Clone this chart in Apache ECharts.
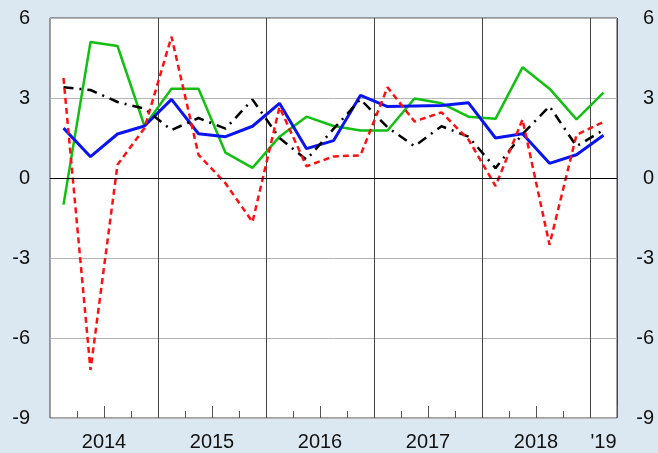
<!DOCTYPE html>
<html>
<head>
<meta charset="utf-8">
<script src="https://cdn.jsdelivr.net/npm/echarts@6/dist/echarts.min.js"></script>
<style>
  html, body { margin: 0; padding: 0; background: #dce8f1; }
  #main { width: 658px; height: 453px; }
</style>
</head>
<body>
<div id="main"></div>
<script>
// quarters 2014Q1 .. 2019Q1
var quarters = ['2014Q1','2014Q2','2014Q3','2014Q4','2015Q1','2015Q2','2015Q3','2015Q4',
                '2016Q1','2016Q2','2016Q3','2016Q4','2017Q1','2017Q2','2017Q3','2017Q4',
                '2018Q1','2018Q2','2018Q3','2018Q4','2019Q1'];
var yearLabels = ['2014','2015','2016','2017','2018',"'19"];
var yTicks = [-9, -6, -3, 0, 3, 6];

var greenLine = [-1.0, 5.1, 4.95, 1.95, 3.35, 3.35, 0.95, 0.38, 1.55, 2.3, 1.95, 1.78, 1.78, 2.98, 2.8, 2.3, 2.22, 4.15, 3.35, 2.2, 3.2];
var blueLine  = [1.87, 0.8, 1.65, 1.95, 2.95, 1.66, 1.55, 1.94, 2.8, 1.1, 1.4, 3.1, 2.68, 2.7, 2.72, 2.82, 1.5, 1.66, 0.55, 0.87, 1.6];
var blackLine = [3.4, 3.3, 2.85, 2.6, 1.8, 2.25, 1.85, 2.94, 1.5, 0.69, 1.84, 2.95, 1.9, 1.19, 1.94, 1.55, 0.37, 1.65, 2.69, 1.19, 1.8];
var redLine   = [3.75, -7.2, 0.5, 1.87, 5.3, 0.87, -0.2, -1.65, 2.66, 0.44, 0.81, 0.85, 3.4, 2.12, 2.46, 1.44, -0.3, 2.19, -2.5, 1.62, 2.1];

var myChart = echarts.init(document.getElementById('main'));
var labelFont = { fontFamily: 'Liberation Sans', fontSize: 20, color: '#111' };

var yAxisBase = {
    type: 'value',
    min: yTicks[0],
    max: yTicks[yTicks.length - 1],
    interval: 3,
    axisLine: { show: false },
    axisTick: { show: false }
};

var option = {
    backgroundColor: '#dce8f1',
    animation: false,
    grid: {
        left: 50, right: 41, top: 18, bottom: 35,
        show: true,
        backgroundColor: '#fff',
        borderColor: '#444',
        borderWidth: 1
    },
    xAxis: [
        {
            type: 'category',
            data: quarters,
            boundaryGap: true,
            axisLine: { show: false, onZero: false },
            axisTick: {
                show: true, inside: true, length: 7,
                interval: function (i) { return i % 2 === 1 && i < 20; },
                lineStyle: { color: '#555' }
            },
            splitLine: {
                show: true,
                interval: function (i) { return i % 4 === 0 && i > 0 && i < 21; },
                lineStyle: { color: '#444', width: 1 }
            },
            axisLabel: Object.assign({
                margin: 14,
                interval: function (i) { return i % 4 === 1 || i === 20; },
                formatter: function (v, i) {
                    if (i === 20) return '{b|' + yearLabels[5] + '}';
                    return '{a|' + yearLabels[(i - 1) / 4] + '}';
                },
                rich: {
                    a: Object.assign({ padding: [0, 0, 0, 27] }, labelFont),
                    b: Object.assign({}, labelFont)
                }
            }, labelFont)
        },
        {
            type: 'category',
            data: quarters,
            boundaryGap: true,
            position: 'bottom',
            axisLine: { show: false, onZero: false },
            axisLabel: { show: false },
            axisTick: {
                show: true, inside: true, length: 12,
                interval: function (i) { return i % 4 === 2 && i < 20; },
                lineStyle: { color: '#555' }
            }
        }
    ],
    yAxis: [
        Object.assign({
            position: 'left',
            splitLine: { show: true, lineStyle: { color: '#b4b4b4', width: 1 } },
            axisLabel: Object.assign({ margin: 20 }, labelFont)
        }, yAxisBase),
        Object.assign({
            position: 'right',
            splitLine: { show: false },
            axisLabel: Object.assign({ margin: 37, align: 'right' }, labelFont)
        }, yAxisBase)
    ],
    series: [
        {
            name: 'green', type: 'line', data: greenLine, showSymbol: false,
            lineStyle: { color: '#11c011', width: 2.5 },
            markLine: {
                silent: true, symbol: 'none', label: { show: false },
                lineStyle: { color: '#000', width: 1, type: 'solid' },
                data: [{ yAxis: 0 }]
            }
        },
        {
            name: 'blue', type: 'line', data: blueLine, showSymbol: false,
            lineStyle: { color: '#0a14f0', width: 3 }
        },
        {
            name: 'black', type: 'line', data: blackLine, showSymbol: false,
            lineStyle: { color: '#000', width: 2.5, type: [10, 6, 2, 6] }
        },
        {
            name: 'red', type: 'line', data: redLine, showSymbol: false,
            lineStyle: { color: '#ff1010', width: 2.5, type: [6, 4] }
        }
    ]
};
myChart.setOption(option, true);
window.onresize = myChart.resize;
</script>
</body>
</html>
